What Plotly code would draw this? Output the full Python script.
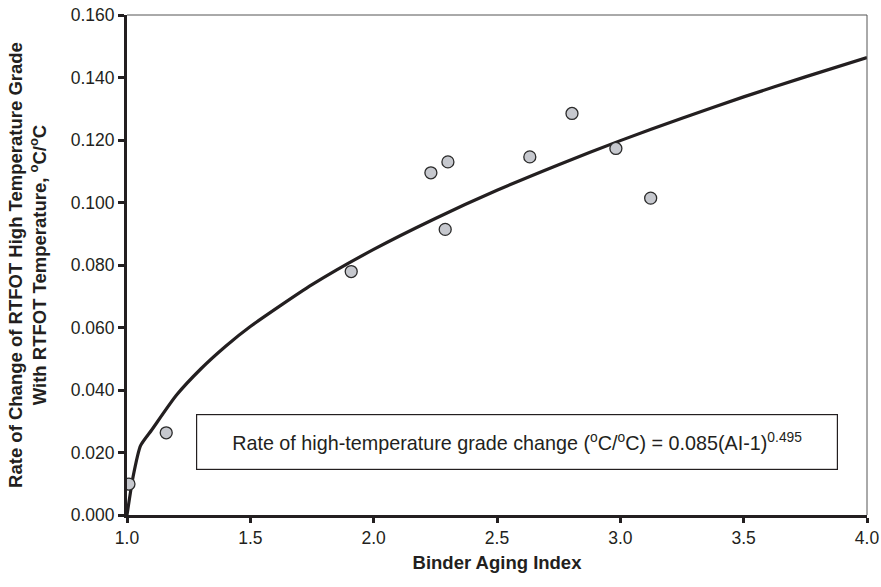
import plotly.graph_objects as go

# Measured data points (Binder Aging Index vs. rate of change)
aging_index = [1.008, 1.159, 1.909, 2.232, 2.301, 2.290, 2.633, 2.804, 2.982, 3.123]
rate_change = [0.0099, 0.0263, 0.0779, 0.1095, 0.1130, 0.0914, 0.1146, 0.1285, 0.1173, 0.1014]

# Trend curve
curve_x = [1.0, 1.025, 1.055, 1.1, 1.2, 1.3, 1.4, 1.5, 1.75, 2.0, 2.25, 2.5, 2.75, 3.0, 3.25, 3.5, 3.75, 4.0]
curve_y = [0.0, 0.0124, 0.0222, 0.0272, 0.0383, 0.0468, 0.0540, 0.0603, 0.0737, 0.0850,
           0.0949, 0.1039, 0.1121, 0.1198, 0.1270, 0.1338, 0.1402, 0.1464]

x_ticks = [1.0, 1.5, 2.0, 2.5, 3.0, 3.5, 4.0]
y_ticks = [0.0, 0.02, 0.04, 0.06, 0.08, 0.10, 0.12, 0.14, 0.16]

font_family = "Liberation Sans, Arial, sans-serif"
ink = "#231f20"

fig = go.Figure()
fig.add_trace(go.Scatter(x=curve_x, y=curve_y, mode="lines",
                         line=dict(color=ink, width=3.2, shape="spline", smoothing=0.6),
                         hoverinfo="skip", showlegend=False))
fig.add_trace(go.Scatter(x=aging_index, y=rate_change, mode="markers",
                         marker=dict(size=12, color="#c6c8ce", line=dict(color="#2a2a2a", width=1.3)),
                         showlegend=False))

fig.update_layout(
    width=881, height=587,
    margin=dict(l=127, r=14, t=15, b=72),
    paper_bgcolor="white", plot_bgcolor="white",
    font=dict(family=font_family, size=17.5, color=ink),
    xaxis=dict(range=[1.0, 4.0], tickvals=x_ticks, tickformat=".1f",
               showgrid=False, zeroline=False, automargin=False,
               showline=True, linecolor=ink, linewidth=3,
               ticks="outside", ticklen=5, tickwidth=3, tickcolor=ink,
               tickfont=dict(size=17.5, color=ink), ticklabeloverflow="allow",
               title=dict(text="<b>Binder Aging Index</b>", font=dict(size=18.5), standoff=10)),
    yaxis=dict(range=[0.0, 0.16], tickvals=y_ticks, tickformat=".3f",
               showgrid=False, zeroline=False, automargin=False,
               showline=True, linecolor=ink, linewidth=3,
               ticks="outside", ticklen=6, tickwidth=3, tickcolor=ink,
               tickfont=dict(size=17.5, color=ink), ticklabeloverflow="allow",
               title=dict(text="<b>Rate of Change of RTFOT High Temperature Grade<br>With RTFOT Temperature, <sup>o</sup>C/<sup>o</sup>C</b>",
                          font=dict(size=18.5), standoff=20)),
)

# thin top and right frame lines
fig.add_shape(type="line", xref="paper", yref="paper", x0=0, x1=1, y0=1, y1=1,
              line=dict(color="#555555", width=1))
fig.add_shape(type="line", xref="paper", yref="paper", x0=1, x1=1, y0=0, y1=1,
              line=dict(color="#555555", width=1))

# equation box
fig.add_annotation(
    x=0.527, y=0.146, xref="paper", yref="paper", xanchor="center", yanchor="middle",
    text="Rate of high-temperature grade change (<sup>o</sup>C/<sup>o</sup>C) = 0.085(AI-1)<sup>0.495</sup>",
    showarrow=False, font=dict(size=19.75, color=ink),
    bordercolor=ink, borderwidth=1.2, borderpad=14, bgcolor="white",
    width=612, align="center")

fig.write_html("out.html", config={"displayModeBar": False},
               post_script="document.body.style.margin='0';document.body.style.overflow='hidden';")
